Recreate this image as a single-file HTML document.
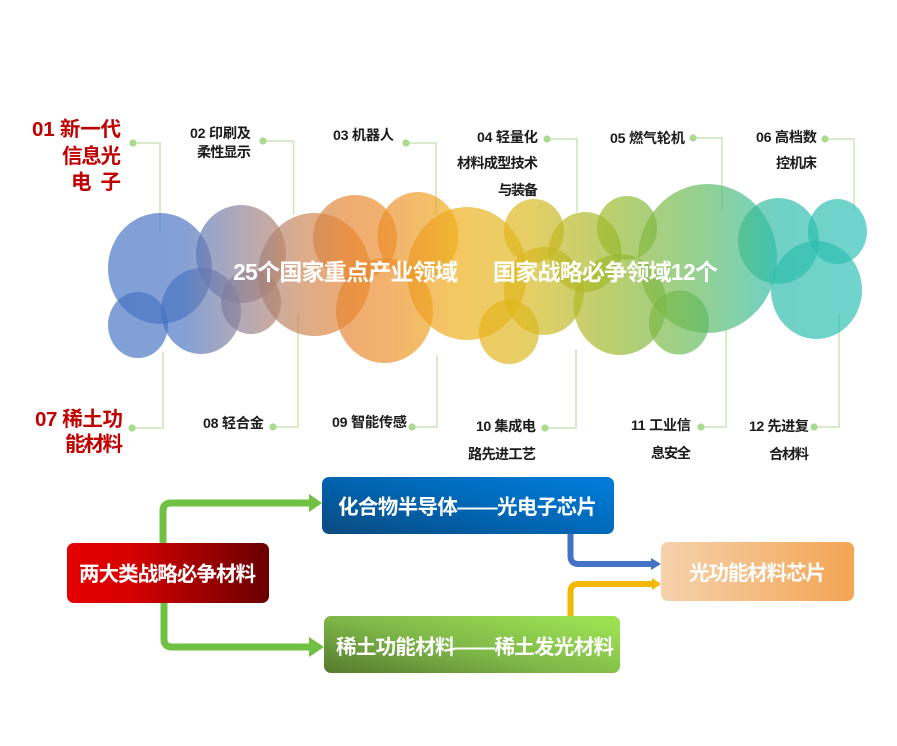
<!DOCTYPE html>
<html><head><meta charset="utf-8">
<style>
html,body{margin:0;padding:0;background:#fff;width:897px;height:746px;overflow:hidden}
svg{display:block}
text{font-family:"Liberation Sans","Noto Sans CJK SC",sans-serif;font-weight:bold}
.l{font-size:14.2px;fill:#1a1a1a;text-anchor:start}
.r{font-size:20.5px;fill:#c00000}
.w{fill:#fff}
</style></head><body>
<svg width="897" height="746" viewBox="0 0 897 746" xmlns="http://www.w3.org/2000/svg">
<defs>
<linearGradient id="bub" gradientUnits="userSpaceOnUse" x1="108" y1="0" x2="867" y2="0">
<stop offset="0" stop-color="#4472c4"/>
<stop offset="0.1" stop-color="#4a74c2"/>
<stop offset="0.17" stop-color="#8a8098"/>
<stop offset="0.25" stop-color="#c88458"/>
<stop offset="0.32" stop-color="#e8852e"/>
<stop offset="0.37" stop-color="#ec8e2a"/>
<stop offset="0.46" stop-color="#efae18"/>
<stop offset="0.55" stop-color="#dcb81c"/>
<stop offset="0.67" stop-color="#96b82c"/>
<stop offset="0.78" stop-color="#62ba5e"/>
<stop offset="0.88" stop-color="#2cbcaa"/>
<stop offset="1" stop-color="#2cc0b8"/>
</linearGradient>
<linearGradient id="gRed" x1="0" y1="0" x2="1" y2="0">
<stop offset="0" stop-color="#e40000"/><stop offset="0.3" stop-color="#d80000"/><stop offset="1" stop-color="#690000"/>
</linearGradient>
<linearGradient id="gBlue" x1="0" y1="1" x2="1" y2="0.2">
<stop offset="0" stop-color="#0b4a80"/><stop offset="0.5" stop-color="#0064b0"/><stop offset="1" stop-color="#007ad6"/>
</linearGradient>
<linearGradient id="gGreen" x1="0" y1="1" x2="1" y2="0.2">
<stop offset="0" stop-color="#557a2e"/><stop offset="0.5" stop-color="#7fb849"/><stop offset="1" stop-color="#9ce052"/>
</linearGradient>
<linearGradient id="gOr" x1="0" y1="0" x2="1" y2="0">
<stop offset="0" stop-color="#f5d2ac"/><stop offset="1" stop-color="#f4a553"/>
</linearGradient>
<filter id="soft" x="-5%" y="-5%" width="110%" height="110%"><feGaussianBlur stdDeviation="0.35"/></filter>
</defs>

<g fill="none" stroke="#c8e6b6" stroke-width="1.5">
<path d="M133 143H160V233"/>
<path d="M263 141H293.5V215"/>
<path d="M406 143H436V215"/>
<path d="M547 139H577V212"/>
<path d="M693 138H722V212"/>
<path d="M825 139H854V210"/>
<path d="M132 428H163V352"/>
<path d="M273 427H298V313"/>
<path d="M412 427H437V355"/>
<path d="M545 428H576V350"/>
<path d="M701 427H726V330"/>
<path d="M814 427H839V313"/>
</g>
<g fill="#a9da90">
<circle cx="133" cy="143" r="3.6"/><circle cx="263" cy="141" r="3.6"/><circle cx="406" cy="143" r="3.6"/>
<circle cx="547" cy="139" r="3.6"/><circle cx="693" cy="138" r="3.6"/><circle cx="825" cy="139" r="3.6"/>
<circle cx="132" cy="428" r="3.6"/><circle cx="273" cy="427" r="3.6"/><circle cx="412" cy="427" r="3.6"/>
<circle cx="545" cy="428" r="3.6"/><circle cx="701" cy="427" r="3.6"/><circle cx="814" cy="427" r="3.6"/>
</g>

<g fill="url(#bub)" fill-opacity="0.68">
<ellipse cx="160" cy="268.5" rx="52" ry="55.5"/>
<ellipse cx="138" cy="325" rx="30" ry="33"/>
<ellipse cx="201" cy="311" rx="40" ry="43"/>
<ellipse cx="241" cy="254" rx="45" ry="49"/>
<ellipse cx="251" cy="302" rx="30" ry="32"/>
<ellipse cx="314.5" cy="274.5" rx="56.5" ry="61.5"/>
<ellipse cx="355" cy="238" rx="42" ry="43"/>
<ellipse cx="418" cy="236" rx="40.5" ry="44"/>
<ellipse cx="384.5" cy="310.5" rx="48.5" ry="52.5"/>
<ellipse cx="467" cy="273.5" rx="60" ry="66.5"/>
<ellipse cx="534" cy="231" rx="30" ry="32"/>
<ellipse cx="509" cy="332" rx="30" ry="32"/>
<ellipse cx="544" cy="291" rx="40" ry="44"/>
<ellipse cx="585" cy="252" rx="36.5" ry="40"/>
<ellipse cx="627" cy="228" rx="30" ry="32"/>
<ellipse cx="620" cy="304.5" rx="46.5" ry="50.5"/>
<ellipse cx="707.5" cy="258.5" rx="69.5" ry="74.5"/>
<ellipse cx="679" cy="322.5" rx="30" ry="32"/>
<ellipse cx="778.5" cy="241" rx="40.5" ry="43"/>
<ellipse cx="837.5" cy="231.5" rx="29.5" ry="32.5"/>
<ellipse cx="816.5" cy="290" rx="45.5" ry="49"/>
</g>

<!-- arrows -->
<g fill="none" stroke-width="7">
<path d="M163 545V511Q163 503 171 503H311" stroke="#70c044"/>
<path d="M164 601V639Q164 647 172 647H311" stroke="#70c044"/>
<path d="M570.5 532V556Q570.5 564 578.5 564H653" stroke="#4472c4" stroke-width="6"/>
<path d="M570.5 618V592Q570.5 584 578.5 584H653" stroke="#f2b800" stroke-width="6"/>
</g>
<polygon points="309,494 322,503 309,512" fill="#70c044"/>
<polygon points="309,637 324,647 309,657" fill="#70c044"/>
<polygon points="651,558 661,564 651,570" fill="#4472c4"/>
<polygon points="652,578 661,584 652,590" fill="#f2b800"/>

<!-- boxes -->
<rect x="67" y="543" width="202" height="60" rx="7" fill="url(#gRed)"/>
<rect x="322" y="477" width="292" height="57" rx="7" fill="url(#gBlue)"/>
<rect x="324" y="616" width="296" height="57" rx="7" fill="url(#gGreen)"/>
<rect x="661" y="542" width="193" height="59" rx="7" fill="url(#gOr)"/>

<g filter="url(#soft)">
<!-- left red labels -->
<text class="r" x="32" y="136" textLength="89">01 新一代</text>
<text class="r" x="62" y="163" textLength="59">信息光</text>
<text class="r" x="71" y="189" textLength="50">电　子</text>
<text class="r" x="35" y="426" textLength="88">07 稀土功</text>
<text class="r" x="65" y="451" textLength="58">能材料</text>

<!-- black labels -->
<text class="l" x="190" y="138" textLength="61">02 印刷及</text>
<text class="l" x="197" y="157" textLength="54">柔性显示</text>
<text class="l" x="333" y="140" textLength="61">03 机器人</text>
<text class="l" x="477" y="142" textLength="61">04 轻量化</text>
<text class="l" x="457" y="168" textLength="81">材料成型技术</text>
<text class="l" x="498" y="195" textLength="40">与装备</text>
<text class="l" x="610" y="143" textLength="75">05 燃气轮机</text>
<text class="l" x="756" y="142" textLength="61">06 高档数</text>
<text class="l" x="776" y="168" textLength="41">控机床</text>
<text class="l" x="203" y="428" textLength="61">08 轻合金</text>
<text class="l" x="332" y="427" textLength="75">09 智能传感</text>
<text class="l" x="476" y="431" textLength="60">10 集成电</text>
<text class="l" x="468" y="459" textLength="68">路先进工艺</text>
<text class="l" x="631" y="430" textLength="60">11 工业信</text>
<text class="l" x="651" y="458" textLength="40">息安全</text>
<text class="l" x="749" y="431" textLength="60">12 先进复</text>
<text class="l" x="769" y="459" textLength="40">合材料</text>

<!-- center -->
<text class="w" x="233" y="280" font-size="23" textLength="225">25个国家重点产业领域</text>
<text class="w" x="493" y="280" font-size="23" textLength="225">国家战略必争领域12个</text>

<!-- box texts -->
<text class="w" x="79" y="581" font-size="20.5" textLength="177">两大类战略必争材料</text>
<text class="w" x="338" y="514" font-size="20.5" textLength="259">化合物半导体——光电子芯片</text>
<text class="w" x="336" y="654" font-size="20.5" textLength="278">稀土功能材料——稀土发光材料</text>
<text class="w" x="689" y="580" font-size="20.5" textLength="137">光功能材料芯片</text>
</g>
</svg>
</body></html>
